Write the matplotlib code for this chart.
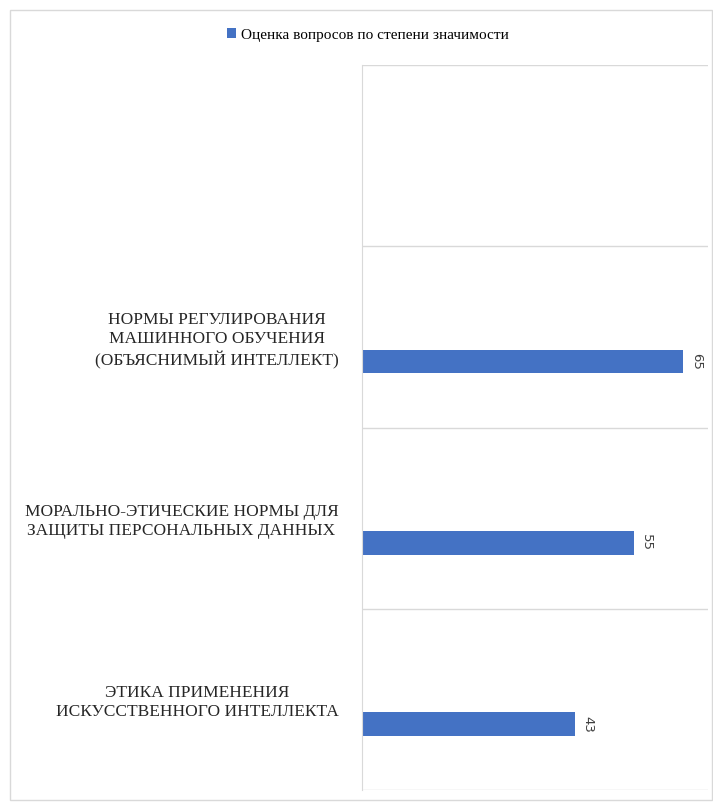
import numpy as np
import matplotlib
matplotlib.use('Agg')
from matplotlib import pyplot as plt
from matplotlib.patches import Rectangle

plt.rcParams['font.family'] = ['Liberation Serif', 'DejaVu Serif']

# данные (снизу вверх, верхняя категория пустая)
categories = ['ЭТИКА ПРИМЕНЕНИЯ\nИСКУССТВЕННОГО ИНТЕЛЛЕКТА',
              'МОРАЛЬНО-ЭТИЧЕСКИЕ НОРМЫ ДЛЯ\nЗАЩИТЫ ПЕРСОНАЛЬНЫХ ДАННЫХ',
              'НОРМЫ РЕГУЛИРОВАНИЯ\nМАШИННОГО ОБУЧЕНИЯ\n(ОБЪЯСНИМЫЙ ИНТЕЛЛЕКТ)',
              '']
values = [43, 55, 65, np.nan]
series_name = 'Оценка вопросов по степени значимости'

blue = '#4472C4'
grid = '#D9D9D9'

fig = plt.figure(figsize=(7.13, 8.02), dpi=100)
ax = fig.add_axes([362/713, 1-790/802, (708-362)/713, (790-65)/802])

y = np.arange(len(categories))
offset = -0.137
bars = ax.barh(y + offset, values, height=0.13, color=blue, label=series_name)

for yi, v in zip(y, values):
    if not np.isnan(v):
        ax.text(v + 1.3, yi + offset, str(v), rotation=-90, va='center', ha='left',
                fontsize=9.5, color='#404040', family='DejaVu Sans')

ax.set_xlim(0, 70)
ax.set_ylim(-0.5, len(categories) - 0.5)
ax.set_xticks([])
ax.set_yticks(y)
ax.set_yticklabels(categories, fontsize=12.5, color='#262626', multialignment='center',
                   linespacing=1.25)
ax.tick_params(axis='y', length=0, pad=17)

for b in np.arange(-0.5, len(categories), 1):
    ax.axhline(b, color=grid, lw=1, zorder=0)

for s in ['top', 'right', 'bottom']:
    ax.spines[s].set_visible(False)
ax.spines['left'].set_color(grid)

fig.legend(handles=[bars], labels=[series_name], loc='center', bbox_to_anchor=(368/713, 1-35/802),
           frameon=False, fontsize=11, handlelength=0.6, handleheight=0.6, handletextpad=0.3)

fig.patches.append(Rectangle((10/713, 0.002), 1-10/713-0.002, 1-10/802-0.002, transform=fig.transFigure,
                             fill=False, edgecolor=grid, lw=1))

fig.savefig('out.png', dpi=100)
